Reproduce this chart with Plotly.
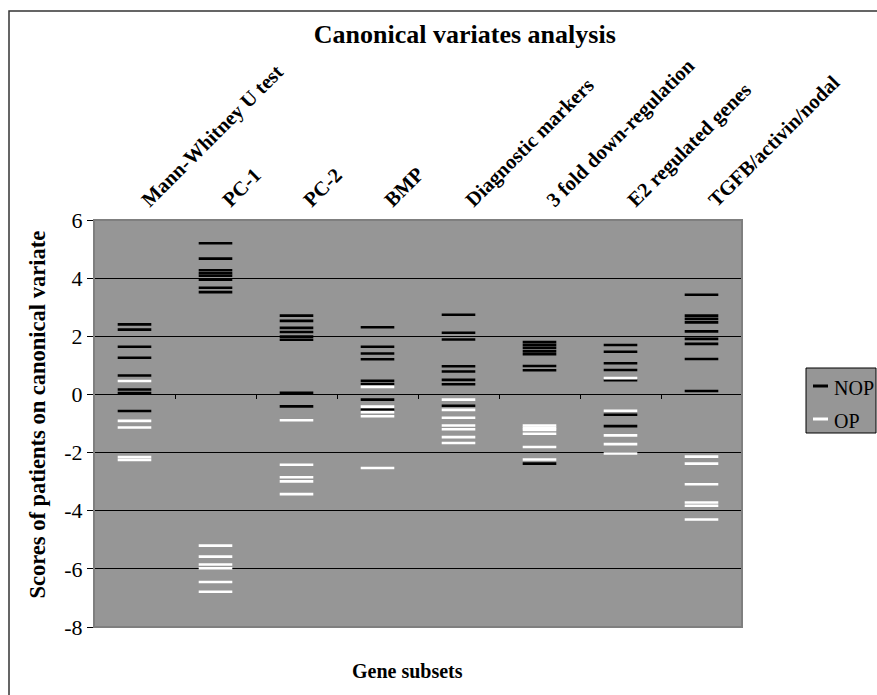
import plotly.graph_objects as go

categories = ["Mann-Whitney U test", "PC-1", "PC-2", "BMP", "Diagnostic markers",
              "3 fold down-regulation", "E2 regulated genes", "TGFB/activin/nodal"]

nop_values = [
    [2.41, 2.23, 1.64, 1.26, 0.65, 0.17, 0.05, -0.57],
    [5.20, 4.67, 4.27, 4.17, 4.08, 3.95, 3.67, 3.52],
    [2.71, 2.53, 2.29, 2.15, 1.99, 1.88, 0.06, -0.41],
    [2.31, 1.64, 1.41, 1.21, 0.47, 0.36, -0.18, -0.53],
    [2.74, 2.12, 1.89, 0.97, 0.79, 0.50, 0.35, -0.39],
    [1.80, 1.70, 1.60, 1.48, 1.38, 0.98, 0.83, -2.38],
    [1.70, 1.47, 1.07, 0.84, 0.49, -0.70, -1.09],
    [3.43, 2.71, 2.60, 2.48, 2.17, 1.91, 1.74, 1.22, 0.12],
]

op_values = [
    [0.46, -0.91, -1.14, -2.15, -2.25],
    [-5.20, -5.58, -5.85, -5.98, -6.45, -6.79],
    [-0.89, -2.42, -2.85, -2.99, -3.43],
    [0.26, -0.42, -0.61, -0.75, -2.53],
    [-0.18, -0.53, -0.80, -1.07, -1.20, -1.47, -1.67],
    [-1.07, -1.15, -1.22, -1.35, -1.81, -2.24],
    [0.56, -0.56, -1.41, -1.71, -2.03],
    [-2.14, -2.38, -3.09, -3.72, -3.83, -4.30],
]

series_names = ["NOP", "OP"]
series_colors = ["black", "white"]

y_ticks = [-8, -6, -4, -2, 0, 2, 4, 6]
y_tick_labels = ["-8", "-6", "-4", "-2", "0", "2", "4", "6"]

FONT = "Liberation Serif, Times New Roman, serif"
GRAY = "#969696"

# plot-area geometry in page pixels (for converting layout positions to paper coords)
L, R, T, B = 94, 742, 220, 627
def px(x):
    return (x - L) / (R - L)
def py(y):
    return (B - y) / (B - T)

def flatten(groups):
    xs, ys = [], []
    for i, vals in enumerate(groups):
        for v in vals:
            xs.append(i)
            ys.append(v)
    return xs, ys

fig = go.Figure()
for name, color, groups in zip(series_names, series_colors, [nop_values, op_values]):
    xs, ys = flatten(groups)
    fig.add_trace(go.Scatter(
        x=xs, y=ys, mode="markers", name=name,
        marker=dict(symbol="line-ew", size=24, line=dict(color=color, width=2.6)),
    ))
# invisible trace for top category axis
fig.add_trace(go.Scatter(x=[0], y=[0], xaxis="x2", mode="markers",
                         marker=dict(opacity=0), showlegend=False, hoverinfo="skip"))

n = len(categories)
ymin, ymax = y_ticks[0], y_ticks[-1]

# hand-built legend (box, swatches, labels)
legend_shapes = [dict(type="rect", xref="paper", yref="paper",
                      x0=px(806), x1=px(876), y0=py(433), y1=py(368),
                      fillcolor=GRAY, line=dict(color="black", width=1))]
legend_annots = []
for k, (name, color) in enumerate(zip(series_names, series_colors)):
    yc = 386 + k * 33
    legend_shapes.append(dict(type="line", xref="paper", yref="paper",
                              x0=px(813), x1=px(828), y0=py(yc), y1=py(yc),
                              line=dict(color=color, width=3)))
    legend_annots.append(dict(text=name, x=px(832), y=py(yc + 2), xref="paper", yref="paper",
                              showarrow=False, xanchor="left", yanchor="middle",
                              font=dict(size=20, family=FONT, color="black")))

fig.update_layout(
    width=877, height=695,
    margin=dict(l=L, r=877 - R, t=T, b=695 - B, autoexpand=False),
    paper_bgcolor="white",
    plot_bgcolor=GRAY,
    font=dict(family=FONT, color="black"),
    showlegend=False,
    title=dict(text="<b>Canonical variates analysis</b>", x=0.53, xref="container",
               xanchor="center", y=1 - 34 / 695, yanchor="middle",
               font=dict(size=26, family=FONT, color="black")),
    xaxis=dict(range=[-0.5, n - 0.5], anchor="free", position=(0 - ymin) / (ymax - ymin),
               showline=True, linecolor="black", linewidth=1,
               tickmode="array", tickvals=[i - 0.5 for i in range(n + 1)],
               ticks="outside", ticklen=4, tickcolor="black", showticklabels=False,
               showgrid=False, zeroline=False),
    xaxis2=dict(range=[-0.6, n - 0.6], overlaying="x", side="top", anchor="y",
                tickmode="array", tickvals=list(range(n)), ticktext=[f"<b>{c}</b>" for c in categories],
                tickangle=-45, ticks="", showline=False, showgrid=False, zeroline=False,
                ticklabelstandoff=4,
                tickfont=dict(size=20.5, family=FONT, color="black")),
    yaxis=dict(range=[ymin, ymax], tickmode="array", tickvals=y_ticks, ticktext=y_tick_labels,
               showline=True, linecolor="black", linewidth=1,
               ticks="outside", ticklen=6, tickcolor="black",
               showgrid=True, gridcolor="black", gridwidth=1, zeroline=False,
               tickfont=dict(size=22, family=FONT, color="black")),
    annotations=[
        dict(text="<b>Scores of patients on canonical variate</b>", textangle=-90,
             x=px(36.5), y=py(415), xref="paper", yref="paper",
             showarrow=False, xanchor="center", yanchor="middle",
             font=dict(size=22.5, family=FONT, color="black")),
        dict(text="<b>Gene subsets</b>", x=px(407), y=py(671),
             xref="paper", yref="paper", showarrow=False, xanchor="center", yanchor="middle",
             font=dict(size=20, family=FONT, color="black")),
    ] + legend_annots,
    shapes=[
        # plot area frame
        dict(type="rect", xref="paper", yref="paper", x0=0, x1=1, y0=0, y1=1,
             line=dict(color="#7f7f7f", width=2), layer="above"),
        # outer chart border (extends past the page edges)
        dict(type="rect", xref="paper", yref="paper",
             x0=px(9), x1=px(900), y0=py(720), y1=py(11),
             line=dict(color="#333333", width=1.5)),
    ] + legend_shapes,
)

fig.write_html("out.html")
